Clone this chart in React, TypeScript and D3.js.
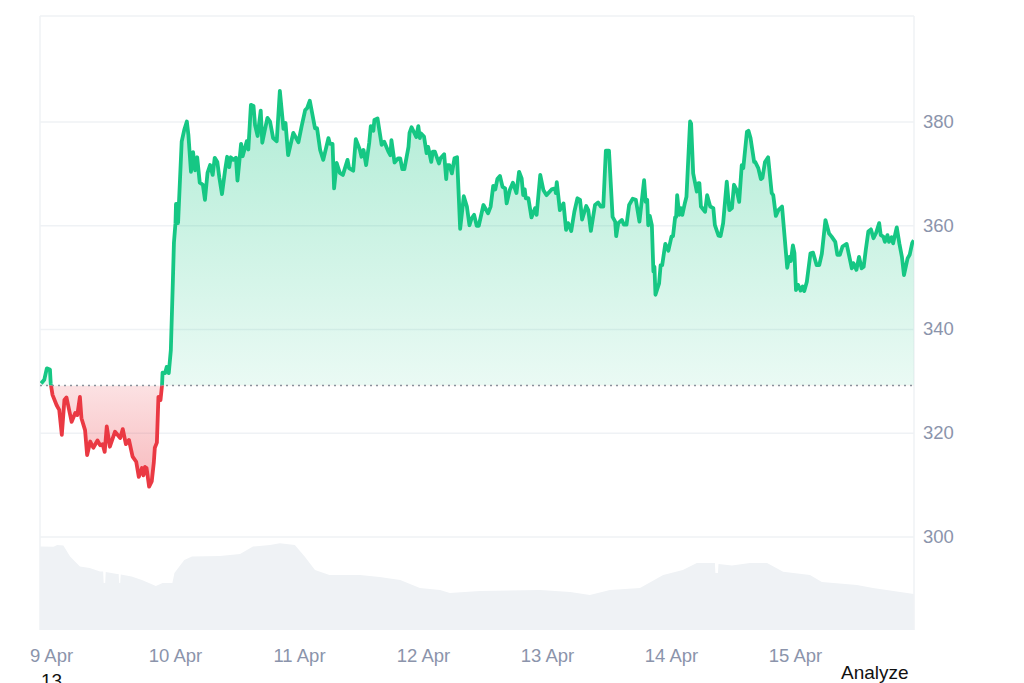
import React from "react";
import * as d3 from "d3";

// hours since 9 Apr 00:00, price
const priceHours = [-2.1,-1.5,-1.0,-0.4,-0.25,0.1,0.9,1.4,1.9,2.4,2.8,3.8,4.5,4.9,5.4,5.7,6.4,6.8,7.4,8.0,8.8,9.3,9.8,10.2,10.6,11.2,12.2,13.2,13.7,14.3,14.9,15.6,16.3,16.8,17.4,17.7,18.0,18.3,18.8,19.3,19.7,19.9,20.3,20.6,21.0,21.3,21.4,21.9,22.2,22.6,23.0,23.4,23.6,23.9,24.0,24.3,24.4,25.1,25.6,26.1,26.4,26.9,27.3,27.7,28.1,28.6,29.2,29.6,30.1,30.6,31.1,31.5,32.0,32.4,32.9,33.5,33.9,34.3,34.6,35.1,35.6,35.9,36.6,36.9,37.7,38.0,38.5,39.0,39.3,39.8,40.4,40.7,41.2,41.7,42.2,42.8,43.5,44.1,44.8,45.2,45.7,46.7,47.7,48.3,49.0,49.4,49.9,50.9,51.3,51.9,52.5,53.5,53.8,54.3,54.6,55.1,55.7,56.3,57.2,57.5,58.3,58.8,59.6,59.9,60.3,60.8,61.4,61.7,62.2,62.4,63.0,63.8,64.3,65.1,65.5,65.7,66.3,67.0,67.4,67.8,68.2,69.0,69.2,69.6,70.5,70.9,71.2,71.4,72.0,72.5,72.8,73.4,73.7,74.1,74.9,75.2,75.9,76.3,76.5,76.9,77.4,77.9,78.4,79.0,79.7,80.3,80.8,81.2,81.7,82.2,82.6,83.5,84.4,84.9,85.4,85.8,86.2,86.7,87.2,87.7,88.0,88.6,89.2,89.9,90.4,90.9,91.2,91.5,91.7,92.2,92.8,93.5,93.8,94.5,95.1,95.7,96.7,97.4,97.5,97.7,98.3,99.0,99.5,99.9,100.5,101.1,101.7,102.2,102.6,103.4,103.8,104.3,105.1,105.7,106.2,106.7,107.2,107.8,108.5,109.0,109.2,109.6,110.3,110.7,111.2,111.7,112.4,113.0,113.7,114.6,114.9,115.2,115.4,115.7,116.1,116.4,116.6,116.8,117.5,117.8,118.1,118.7,119.3,119.9,120.2,120.6,120.8,121.0,121.4,121.7,122.0,122.5,122.8,123.5,123.7,124.1,124.8,125.1,125.3,125.6,126.4,126.8,127.4,128.0,128.3,129.0,129.4,129.9,130.6,131.1,131.6,132.0,132.5,133.0,133.5,133.8,134.5,134.8,135.2,135.9,136.1,136.7,137.2,137.5,138.0,138.6,139.3,139.6,140.1,140.6,141.3,142.3,142.7,143.0,143.4,143.7,144.0,144.4,144.9,145.3,145.6,146.1,146.8,147.3,148.0,148.5,149.0,149.7,150.4,150.9,151.6,152.0,152.5,153.0,153.8,154.8,155.1,155.7,156.2,156.7,157.1,157.5,158.0,158.5,159.0,159.5,160.1,160.4,160.9,161.2,161.7,162.0,162.5,162.8,163.5,164.0,164.5,164.9,165.6,166.0,166.5,166.8];
const priceValues = [329.6,330.3,332.5,332.3,329.6,327.4,325.4,324.5,319.7,326.4,326.9,322.2,323.9,323.5,327.0,322.9,320.6,315.8,318.4,317.2,318.6,317.7,317.9,316.4,321.3,317.4,320.3,319.1,320.8,317.9,318.7,315.5,314.5,311.6,313.3,311.9,313.5,313.3,309.7,310.7,314.3,317.2,318.2,327.0,326.4,329.3,331.7,331.6,332.8,331.6,336.0,349.5,356.7,360.5,364.2,364.2,360.5,376.2,378.5,380.1,377.5,370.4,374.2,370.7,373.2,368.3,367.9,365.0,370.2,371.7,369.8,373.1,372.3,369.2,366.1,370.7,373.3,371.3,373.2,372.7,373.1,368.7,375.8,373.4,376.3,374.7,383.3,383.1,379.4,377.3,382.2,376.0,378.5,380.8,380.1,376.9,376.3,386.0,378.7,379.8,373.6,377.9,376.1,379.1,382.3,382.7,384.1,378.8,378.8,374.6,372.7,376.9,375.8,375.8,367.2,372.1,370.2,369.8,372.7,371.1,370.6,376.7,374.6,373.3,374.6,371.7,376.0,379.2,378.3,380.4,380.7,375.6,376.2,374.3,373.6,376.5,372.2,373.0,373.0,370.9,370.9,375.2,377.9,379.0,377.1,379.2,376.9,377.8,377.2,374.0,375.2,372.3,374.3,374.3,372.0,373.0,373.8,369.0,371.7,371.7,370.1,373.0,373.2,359.4,365.7,363.7,360.1,361.4,362.1,360.0,360.0,364.0,362.4,363.7,367.7,367.0,369.0,369.6,367.5,367.2,364.3,366.9,368.3,366.3,370.4,369.1,365.9,367.0,365.3,365.3,361.6,363.4,362.1,369.8,366.9,365.9,367.0,367.2,366.3,368.4,363.0,364.3,359.2,360.5,359.0,362.7,365.3,365.0,361.2,363.8,363.0,359.0,364.0,364.5,363.7,363.7,374.5,374.5,361.7,360.8,358.0,360.5,361.1,360.2,360.2,364.0,365.2,365.0,360.8,368.8,364.6,365.0,360.1,361.9,360.1,351.2,352.1,346.7,348.9,352.4,352.4,356.5,355.2,357.9,358.0,361.6,361.7,365.9,362.1,363.4,362.1,364.4,365.6,380.1,379.7,370.1,366.6,368.2,368.2,363.7,362.7,365.9,363.7,363.4,360.1,358.1,358.0,360.5,368.5,363.0,363.4,367.9,366.9,364.6,371.7,371.1,378.1,378.3,376.9,372.3,372.3,371.1,369.0,369.2,372.3,373.2,366.3,365.9,361.9,363.0,363.7,351.9,354.0,353.2,356.2,354.7,347.6,348.6,347.5,348.3,347.4,349.2,354.7,354.8,352.4,352.4,354.6,361.1,358.5,357.9,356.9,354.4,354.4,356.0,356.5,351.8,352.8,351.5,354.0,351.8,352.1,355.3,358.9,359.3,357.6,358.6,360.5,358.2,357.9,356.9,358.2,356.9,357.8,356.6,359.7,356.6,354.0,350.5,353.7,354.4,356.7,357.2];
const referencePrice = 329.2;

const volumeHours = [-2.3,0.3,1.0,2.2,3.5,5.4,7.3,9.3,9.9,10.0,10.3,10.4,12.6,12.9,13.0,13.2,13.3,15.4,17.4,20.1,21.4,23.3,23.7,25.6,27.1,32.5,36.4,38.9,42.2,44.1,47,48.9,50.9,53.7,55.7,59.6,63.4,67.4,71.2,75.1,77,82.8,94.5,100.3,104.1,108,113.8,118.3,122.1,124.8,128.3,128.4,128.9,129.0,131.6,135.1,138.4,141.5,146.7,149,155.8,158.9,165.5,166.8];
const volumeValues = [83.5,83.3,85,84.5,73.5,63.5,62,58.5,58.5,47,47,58,56,56,47,47,55.5,53.5,50,44,47,47,57,70,73.5,74,76,83.5,85,86.7,85,73.5,60,55,55,55,53,50,42,40,37,39,40,38,35,40,42,55,60,67,67,57,57,66,64.5,67,67,58.3,55,48,45,42,37,36];

const priceTicks = [300,320,340,360,380];
const dayLabels = ["9 Apr","10 Apr","11 Apr","12 Apr","13 Apr","14 Apr","15 Apr"];
const dayHours = [0,24,48,72,96,120,144];

const FONT = "'Liberation Sans', Arial, sans-serif";

export default function App() {
  const left = 40, right = 914, top = 16, bottom = 630;
  const x = d3.scaleLinear().domain([0,144]).range([52,796]);
  const y = d3.scaleLinear().domain([300,380]).range([537,122]);
  const yVol = d3.scaleLinear().domain([0,100]).range([630,530]);
  const base = y(referencePrice);
  const pts = priceHours.map((h,i)=>[h,priceValues[i]] as [number,number]);
  const line = d3.line<[number,number]>().x(d=>x(d[0])).y(d=>y(d[1]))(pts)!;
  const area = d3.area<[number,number]>().x(d=>x(d[0])).y0(base).y1(d=>y(d[1]))(pts)!;
  const volArea = d3.area<number>().x((_,i)=>x(volumeHours[i])).y0(yVol(0)).y1(d=>yVol(d))(volumeValues)!;
  const grid = "#eff2f5";
  const tickColor = "#8b94ab";
  return (
    <svg width={1024} height={683} style={{position:"absolute",left:0,top:0,display:"block",background:"#fff"}}>
      <defs>
        <clipPath id="above"><rect x={left} y={top} width={right-left} height={base-top}/></clipPath>
        <clipPath id="below"><rect x={left} y={base} width={right-left} height={bottom-base}/></clipPath>
        <linearGradient id="gGreen" gradientUnits="userSpaceOnUse" x1={0} x2={0} y1={y(386)} y2={base}>
          <stop offset="0" stopColor="#16c784" stopOpacity={0.34}/>
          <stop offset="1" stopColor="#16c784" stopOpacity={0.09}/>
        </linearGradient>
        <linearGradient id="gRed" gradientUnits="userSpaceOnUse" x1={0} x2={0} y1={base} y2={y(309)}>
          <stop offset="0" stopColor="#ea3943" stopOpacity={0.15}/>
          <stop offset="1" stopColor="#ea3943" stopOpacity={0.36}/>
        </linearGradient>
      </defs>
      <path d={volArea} fill="#eff2f5"/>
      {priceTicks.map(t=>(
        <line key={t} x1={left} x2={right} y1={y(t)} y2={y(t)} stroke={grid} strokeWidth={1.5}/>
      ))}
      <line x1={left} x2={right} y1={top} y2={top} stroke={grid} strokeWidth={1.5}/>
      <line x1={left} x2={left} y1={top} y2={bottom} stroke={grid} strokeWidth={1.5}/>
      <line x1={right} x2={right} y1={top} y2={bottom} stroke={grid} strokeWidth={1.5}/>
      <path d={area} fill="url(#gGreen)" clipPath="url(#above)"/>
      <path d={area} fill="url(#gRed)" clipPath="url(#below)"/>
      <path d={line} fill="none" stroke="#16c784" strokeWidth={3.8} strokeLinejoin="round" clipPath="url(#above)"/>
      <path d={line} fill="none" stroke="#ea3943" strokeWidth={3.8} strokeLinejoin="round" clipPath="url(#below)"/>
      <line x1={left} x2={right} y1={base} y2={base} stroke="#8a919b" strokeWidth={1.5} strokeDasharray="2 4"/>
      {priceTicks.map(t=>(
        <text key={t} x={923} y={y(t)} dy="0.32em" fontFamily={FONT} fontSize={18.5} fill={tickColor}>{t}</text>
      ))}
      {dayHours.map((h,i)=>(
        <text key={h} x={x(h)-0.5} y={662} textAnchor="middle" fontFamily={FONT} fontSize={18.5} fill={tickColor}>{dayLabels[i]}</text>
      ))}
      <text x={41} y={687} fontFamily={FONT} fontSize={19} fill="#111">13</text>
      <text x={841} y={679} fontFamily={FONT} fontSize={19} fill="#111">Analyze</text>
    </svg>
  );
}
